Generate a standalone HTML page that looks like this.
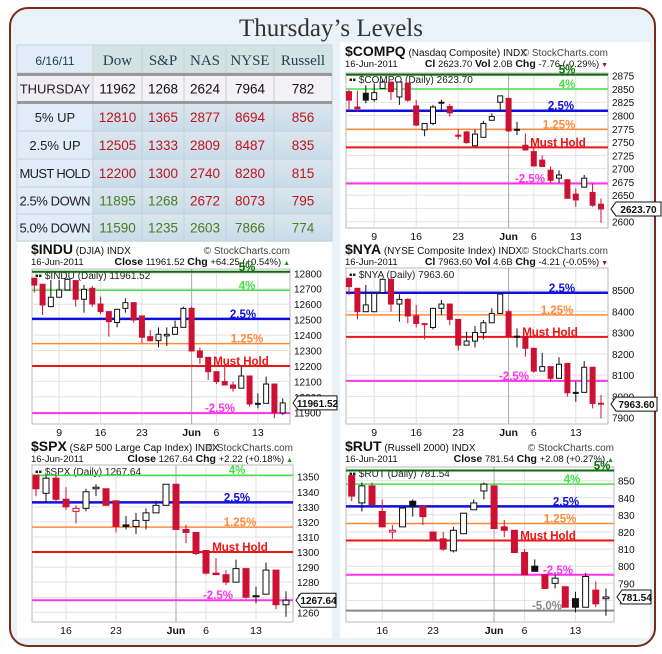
<!DOCTYPE html>
<html><head><meta charset="utf-8"><style>
html,body{margin:0;padding:0;background:#fff;}
svg{display:block;font-family:"Liberation Sans",sans-serif;}
</style></head><body>
<svg id="root" width="662" height="654" viewBox="0 0 662 654" xmlns="http://www.w3.org/2000/svg">
<defs>
<linearGradient id="cellg" x1="0" y1="0" x2="0" y2="1"><stop offset="0" stop-color="#dbe7ee"/><stop offset="1" stop-color="#c9dbea"/></linearGradient>
</defs>
<rect x="10" y="8" width="645" height="638" rx="18" fill="#e9f1f9" stroke="#7a2a18" stroke-width="2"/>
<text x="331" y="36" text-anchor="middle" font-family="Liberation Serif, serif" font-size="25" fill="#333">Thursday’s Levels</text>
<rect x="17" y="242" width="315" height="396" fill="#fff"/>
<rect x="340" y="42" width="310" height="596" fill="#fff"/>
<g id="table"></g>
<g id="charts"></g>
</svg>
<script>
// ---------- table data ----------
const tblCols=["6/16/11","Dow","S&P","NAS","NYSE","Russell"];
const tblRowLabels=["THURSDAY","5% UP","2.5% UP","MUST HOLD","2.5% DOWN","5.0% DOWN"];
const tblValues=[[11962,1268,2624,7964,782],[12810,1365,2877,8694,856],[12505,1333,2809,8487,835],[12200,1300,2740,8280,815],[11895,1268,2672,8073,795],[11590,1235,2603,7866,774]];
const tblColors=[["k","k","k","k","k"],["r","r","r","r","r"],["r","r","r","r","r"],["r","r","r","r","r"],["g","g","r","r","r"],["g","g","g","g","g"]];

// ---------- chart data ----------
const compqO=[2845,2816,2842,2830,2851,2863,2835,2861,2818,2773,2785,2824,2817,2763,2769,2743,2759,2791,2825,2832,2774,2744,2732,2716,2697,2682,2679,2652,2665,2655,2633];
const compqH=[2848,2847,2857,2860,2868,2864,2864,2862,2829,2785,2820,2830,2822,2774,2771,2774,2790,2804,2837,2834,2788,2766,2741,2725,2704,2697,2680,2663,2688,2672,2644];
const compqL=[2810,2807,2823,2826,2851,2829,2820,2826,2780,2761,2782,2807,2798,2755,2747,2743,2759,2790,2809,2769,2763,2735,2705,2704,2673,2673,2644,2628,2665,2628,2598];
const compqC=[2829,2813,2829,2843,2863,2845,2863,2829,2782,2785,2816,2825,2805,2761,2749,2765,2785,2798,2837,2771,2774,2735,2705,2704,2678,2688,2644,2641,2682,2631,2624];
const compqLevels=[2877,2850,2809,2774,2740,2672];
const compqTicks=[2600,2625,2650,2675,2700,2725,2750,2775,2800,2825,2850,2875];

const induO=[12768,12729,12584,12645,12692,12753,12632,12703,12601,12552,12481,12573,12610,12524,12390,12364,12395,12405,12450,12573,12297,12256,12163,12099,12077,12056,12135,11958,11958,12083,11896];
const induH=[12768,12729,12757,12757,12768,12753,12724,12718,12649,12552,12567,12638,12610,12524,12433,12450,12450,12494,12584,12584,12319,12256,12163,12196,12099,12196,12135,12023,12131,12083,11990];
const induL=[12675,12530,12584,12645,12692,12584,12545,12584,12537,12390,12450,12545,12480,12347,12358,12321,12330,12405,12450,12297,12213,12109,12084,12077,12034,12056,11937,11926,11958,11861,11883];
const induC=[12724,12595,12645,12692,12761,12632,12696,12601,12552,12487,12567,12610,12498,12386,12364,12405,12405,12450,12573,12297,12256,12163,12099,12077,12056,12135,11954,11958,12083,11898,11961];
const induLevels=[12810,12690,12505,12345,12200,11895];
const induTicks=[11900,12000,12100,12200,12300,12400,12500,12600,12700,12800];

const nyaO=[8555,8508,8398,8398,8488,8550,8434,8456,8378,8342,8324,8414,8434,8362,8241,8260,8300,8346,8390,8398,8283,8281,8226,8119,8140,8085,8155,8019,8019,8137,7968];
const nyaH=[8555,8508,8524,8492,8555,8555,8480,8461,8430,8343,8414,8453,8434,8362,8304,8331,8359,8414,8484,8409,8320,8281,8226,8205,8140,8184,8155,8069,8166,8137,8006];
const nyaL=[8477,8362,8398,8398,8488,8398,8351,8343,8324,8268,8315,8383,8335,8215,8241,8230,8268,8346,8390,8281,8230,8187,8111,8119,8069,8085,7999,7975,8019,7944,7897];
const nyaC=[8516,8398,8430,8484,8550,8434,8456,8378,8343,8340,8414,8434,8362,8241,8260,8300,8346,8390,8481,8281,8281,8226,8119,8140,8085,8151,8017,8019,8137,7967,7964];
const nyaLevels=[8487,8383,8280,8073];
const nyaTicks=[7900,8000,8100,8200,8300,8400,8500];

const spxO=[1351,1339,1349,1335,1327,1329,1342,1342,1334,1318,1317,1321,1326,1331,1345,1315,1313,1301,1286,1285,1280,1289,1271,1272,1288,1265];
const spxH=[1351,1351,1351,1343,1331,1342,1345,1342,1334,1324,1326,1329,1334,1345,1345,1318,1313,1301,1296,1288,1295,1289,1277,1293,1288,1274];
const spxL=[1337,1333,1333,1328,1319,1327,1337,1331,1313,1315,1312,1315,1326,1331,1315,1306,1298,1285,1285,1278,1280,1269,1266,1272,1262,1257];
const spxC=[1342,1349,1335,1330,1329,1340,1343,1331,1317,1317,1321,1326,1331,1345,1315,1313,1299,1286,1285,1280,1289,1270,1271,1288,1265,1268];
const spxLevels=[1351,1333,1316.5,1300,1268];
const spxTicks=[1260,1270,1280,1290,1300,1310,1320,1330,1340,1350];

const rutO=[853,837,847,832,820,823,838,835,820,816,809,819,833,844,847,823,821,808,800,795,790,788,781,776,786,781];
const rutH=[853,849,849,839,824,834,839,835,820,820,823,831,839,849,847,827,821,810,804,795,795,788,785,796,791,787];
const rutL=[838,832,836,823,816,823,829,824,815,809,808,819,833,839,822,817,808,795,797,787,787,776,773,776,776,771];
const rutC=[841,847,836,823,821,834,835,829,815,810,821,831,837,848,822,821,808,795,797,787,793,776,776,794,778,782];
const rutLevels=[856,848,835,825,815,795,774];
const rutTicks=[780,790,800,810,820,830,840,850];

const xLabels31=["9","16","23","Jun","6","13"];
const xLabelIdx31=[3,8,13,19,22,27];
const xLabels26=["16","23","Jun","6","13"];
const xLabelIdx26=[3,8,14,17,22];

const NS="http://www.w3.org/2000/svg";
function mk(parent,tag,attrs,txt){const e=document.createElementNS(NS,tag);for(const k in attrs)e.setAttribute(k,attrs[k]);if(txt!==undefined)e.textContent=txt;parent.appendChild(e);return e;}

// ---------- table ----------
(function(){
  const g=document.getElementById('table');
  const colX=[17,93,142,184,226,274,332];
  const rowY=[45,73,102,131,159,187,214,241];
  for(let c=0;c<6;c++){
    const r=mk(g,'rect',{x:colX[c],y:rowY[0],width:colX[c+1]-colX[c],height:rowY[1]-rowY[0],fill:c==0?'#e0ecf8':'#d3e2e2',stroke:'#c8d4da','stroke-width':1});
    
    
    const t=mk(g,'text',{x:(colX[c]+colX[c+1])/2,y:65,'text-anchor':'middle','font-family':c==0?'Liberation Sans, sans-serif':'Liberation Serif, serif','font-size':c==0?12:15,fill:'#1f3f52'},tblCols[c]);
    
    
  }
  for(let r=0;r<6;r++){
    const y0=rowY[r+1]+(r==0?2:(r==1?1:0)), y1=rowY[r+2];
    for(let c=0;c<6;c++){
      const fill=r==0?(c==0?'#f0ecf3':'#f5f2f7'):(c==0?'#e0ecfa':'url(#cellg)');
      const rc=mk(g,'rect',{x:colX[c],y:y0,width:colX[c+1]-colX[c],height:y1-y0,fill:fill,stroke:'#c4d0da','stroke-width':1});
      
      
      let txt,col;
      if(c==0){txt=tblRowLabels[r];col='#222';}
      else{txt=String(tblValues[r][c-1]);const k=tblColors[r][c-1];col=k=='r'?'#c0141a':(k=='g'?'#4a7d1e':'#111');}
      const attrs={x:(colX[c]+colX[c+1])/2,y:(y0+y1)/2+5,'text-anchor':'middle','font-size':c==0?13:13.5,fill:col};
      if(c==0 && txt.length>=9) attrs.textLength=71;
      const t=mk(g,'text',attrs,txt);
      
      
    }
  }
  const d1=mk(g,'rect',{x:17,y:73,width:315,height:3,fill:'#999'});
  
  
  const d2=mk(g,'rect',{x:17,y:101,width:315,height:3,fill:'#999'});
  
  
})();

// ---------- charts ----------
const levelStyle={
 "5%":["#0a6e0a",2],"4%":["#44e044",1.5],"2.5%":["#1010dd",2.5],"1.25%":["#ff8a3a",1.5],"Must Hold":["#ee1414",2],"-2.5%":["#ff33ee",2],"-5.0%":["#888",2]
};
function drawChart(cfg){
  const root=document.getElementById('charts');
  const g=mk(root,'g',{});
  
  
  const [px0,py0,px1,py1]=cfg.plot;
  const ys=v=>cfg.yA+(v-cfg.vA)*(cfg.yB-cfg.yA)/(cfg.vB-cfg.vA);
  const xs=i=>cfg.x0+cfg.dx*i;
  const t1=mk(g,'text',{x:px0-1,y:cfg.ty,'font-size':10,fill:'#111'});
  
  
  mk(t1,'tspan',{'font-weight':'bold','font-size':14},cfg.ticker);
  mk(t1,'tspan',{},' '+cfg.desc+' INDX');
  const sc=mk(g,'text',{x:cfg.rightX,y:cfg.ty,'text-anchor':'end','font-size':10,fill:'#444'},'© StockCharts.com');
  
  
  const d=mk(g,'text',{x:px0-1,y:cfg.ty+11,'font-size':9.5,fill:'#111'},'16-Jun-2011');
  
  
  const st=mk(g,'text',{x:cfg.rightX,y:cfg.ty+11,'text-anchor':'end','font-size':9.5,fill:'#111'});
  
  
  cfg.stats.forEach(s=>mk(st,'tspan',s[1]?{'font-weight':'bold','font-size':10.5}:{},s[0]));
  mk(st,'tspan',{fill:cfg.up?'#2a8a2a':'#a0102a','font-size':7},cfg.up?' ▲':' ▼');
  const fr=mk(g,'rect',{x:px0,y:py0,width:px1-px0,height:py1-py0,fill:'#fff',stroke:'#b8b8b8','stroke-width':1});
  
  
  cfg.ticks.forEach(v=>{
    const y=ys(v);
    const gl=mk(g,'line',{x1:px0,x2:px1,y1:y,y2:y,stroke:'#e2e2e2','stroke-width':1});
    
    
    const tl=mk(g,'text',{x:px1+4,y:y+4,'font-size':10,fill:'#111'},String(v));
    
    
  });
  cfg.xl.forEach((lab,k)=>{
    const x=xs(cfg.xi[k]);
    const gl=mk(g,'line',{x1:x,x2:x,y1:py0,y2:py1,stroke:lab=='Jun'?'#aaa':'#e2e2e2','stroke-width':1});
    
    
    const tl=mk(g,'text',{x:x,y:py1+12,'text-anchor':'middle','font-size':10.5,'font-weight':lab=='Jun'?'bold':'normal',fill:'#111'},lab);
    
    
  });
  const il=mk(g,'text',{x:px0+3,y:py0+10,'font-size':10,fill:'#222'},'▪▪ '+cfg.ticker+' (Daily) '+cfg.last);
  
  
  cfg.levels.forEach((v,k)=>{
    const nm=cfg.levelNames[k];const s=levelStyle[nm];const y=ys(v);
    const ln=mk(g,'line',{x1:px0,x2:px1,y1:y,y2:y,stroke:s[0],'stroke-width':s[1]});
    
    
    const lt=mk(g,'text',{x:cfg.labelX[k],y:y-1,'text-anchor':'middle','font-size':11.5,'font-weight':'bold',fill:s[0]},nm);
    
    
  });
  const w=cfg.cw;
  for(let i=0;i<cfg.O.length;i++){
    const o=cfg.O[i],h=cfg.H[i],l=cfg.L[i],c=cfg.C[i];
    const prev=i>0?cfg.C[i-1]:o;
    const filled=c<o; const red=c<prev;
    const col=red?'#cc1133':'#111';
    const x=xs(i);
    const wk=mk(g,'line',{x1:x,x2:x,y1:ys(h),y2:ys(l),stroke:col,'stroke-width':1});
    
    
    const top=ys(Math.max(o,c)),bot=ys(Math.min(o,c));
    const bd=mk(g,'rect',{x:x-w/2,y:top,width:w,height:Math.max(1,bot-top),fill:filled?col:'#fff',stroke:col,'stroke-width':1});
    
    
  }
  const yc=ys(cfg.C[cfg.C.length-1]);const bx=px1+3;const bw=cfg.boxW;
  const pb=mk(g,'path',{d:`M${bx} ${yc} L${bx+5} ${yc-7} L${bx+bw} ${yc-7} L${bx+bw} ${yc+7} L${bx+5} ${yc+7} Z`,fill:'#fff',stroke:'#111','stroke-width':1});
  
  
  const pt=mk(g,'text',{x:bx+5+(bw-5)/2,y:yc+4,'text-anchor':'middle','font-size':10,'font-weight':'bold',fill:'#111'},cfg.last);
  
  
}

drawChart({name:'compq',ticker:'$COMPQ',desc:'(Nasdaq Composite)',last:'2623.70',up:false,
 stats:[['Cl',1],[' 2623.70 ',0],['Vol',1],[' 2.0B ',0],['Chg',1],[' -7.76 (-0.29%)',0]],
 ty:56,rightX:608,plot:[346,73,608,228],vA:2875,yA:75.7,vB:2600,yB:221.7,x0:349,dx:8.4,cw:5,
 O:compqO,H:compqH,L:compqL,C:compqC,ticks:compqTicks,xl:xLabels31,xi:xLabelIdx31,
 levels:compqLevels,levelNames:["5%","4%","2.5%","1.25%","Must Hold","-2.5%"],labelX:[567,567,561,559,558,530],boxW:50});
drawChart({name:'indu',ticker:'$INDU',desc:'(DJIA)',last:'11961.52',up:true,
 stats:[['Close',1],[' 11961.52 ',0],['Chg',1],[' +64.25 (+0.54%)',0]],
 ty:254,rightX:290,plot:[32,269,290,424],vA:12800,yA:273.3,vB:11900,yB:412.3,x0:34.3,dx:8.28,cw:5,
 O:induO,H:induH,L:induL,C:induC,ticks:induTicks,xl:xLabels31,xi:xLabelIdx31,
 levels:induLevels,levelNames:["5%","4%","2.5%","1.25%","Must Hold","-2.5%"],labelX:[247,247,243,247,241,220],boxW:44});
drawChart({name:'nya',ticker:'$NYA',desc:'(NYSE Composite Index)',last:'7963.60',up:false,
 stats:[['Cl',1],[' 7963.60 ',0],['Vol',1],[' 4.6B ',0],['Chg',1],[' -4.21 (-0.05%)',0]],
 ty:254,rightX:608,plot:[346,268,608,424],vA:8500,yA:290,vB:7900,yB:417.7,x0:349,dx:8.4,cw:5,
 O:nyaO,H:nyaH,L:nyaL,C:nyaC,ticks:nyaTicks,xl:xLabels31,xi:xLabelIdx31,
 levels:nyaLevels,levelNames:["2.5%","1.25%","Must Hold","-2.5%"],labelX:[562,557,550,514],boxW:46});
drawChart({name:'spx',ticker:'$SPX',desc:'(S&P 500 Large Cap Index)',last:'1267.64',up:true,
 stats:[['Close',1],[' 1267.64 ',0],['Chg',1],[' +2.22 (+0.18%)',0]],
 ty:451,rightX:293,plot:[32,465,293,622],vA:1350,yA:476.7,vB:1260,yB:612.3,x0:36,dx:10,cw:6,
 O:spxO,H:spxH,L:spxL,C:spxC,ticks:spxTicks,xl:xLabels26,xi:xLabelIdx26,
 levels:spxLevels,levelNames:["4%","2.5%","1.25%","Must Hold","-2.5%"],labelX:[237,237,240,240,218],boxW:40});
drawChart({name:'rut',ticker:'$RUT',desc:'(Russell 2000)',last:'781.54',up:true,
 stats:[['Close',1],[' 781.54 ',0],['Chg',1],[' +2.08 (+0.27%)',0]],
 ty:451,rightX:614,plot:[346,467,614,622],vA:850,yA:480.7,vB:790,yB:583.3,x0:351.7,dx:10.17,cw:6,
 O:rutO,H:rutH,L:rutL,C:rutC,ticks:rutTicks,xl:xLabels26,xi:xLabelIdx26,
 levels:rutLevels,levelNames:["5%","4%","2.5%","1.25%","Must Hold","-2.5%","-5.0%"],labelX:[602,572,566,560,548,558,547],boxW:34});
</script>
</body></html>
